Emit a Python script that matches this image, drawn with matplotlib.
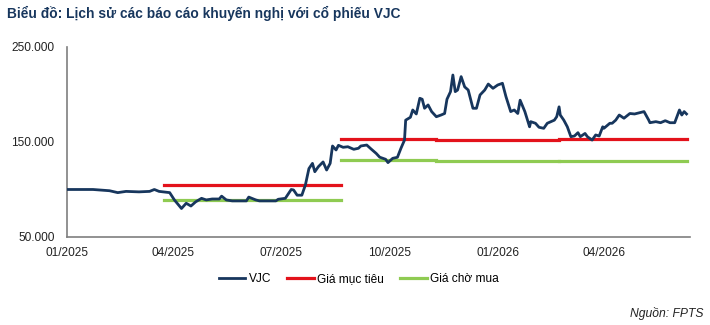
#!/usr/bin/env python3
"""
VJC recommendation history chart (price vs target / buy prices).
"""

import matplotlib
matplotlib.use('Agg')
import matplotlib.pyplot as plt
import matplotlib.dates as mdates
import matplotlib.ticker as mticker
import pandas as pd

# VJC close price (VND)
vjc_dates = [
    '2025-01-01', '2025-01-23', '2025-02-06', '2025-02-13', '2025-02-20', '2025-03-03',
    '2025-03-12', '2025-03-16', '2025-03-20', '2025-03-29', '2025-04-02', '2025-04-08',
    '2025-04-12', '2025-04-16', '2025-04-20', '2025-04-25', '2025-04-29', '2025-05-04',
    '2025-05-10', '2025-05-12', '2025-05-16', '2025-05-21', '2025-06-02', '2025-06-04',
    '2025-06-10', '2025-06-13', '2025-06-27', '2025-06-29', '2025-07-05', '2025-07-10',
    '2025-07-12', '2025-07-15', '2025-07-19', '2025-07-22', '2025-07-25', '2025-07-28',
    '2025-07-30', '2025-08-02', '2025-08-06', '2025-08-09', '2025-08-12', '2025-08-14',
    '2025-08-17', '2025-08-19', '2025-08-23', '2025-08-27', '2025-09-01', '2025-09-05',
    '2025-09-07', '2025-09-12', '2025-09-16', '2025-09-20', '2025-09-23', '2025-09-28',
    '2025-09-30', '2025-10-04', '2025-10-08', '2025-10-11', '2025-10-14', '2025-10-15',
    '2025-10-19', '2025-10-21', '2025-10-24', '2025-10-27', '2025-10-29', '2025-10-31',
    '2025-11-03', '2025-11-06', '2025-11-10', '2025-11-14', '2025-11-17', '2025-11-19',
    '2025-11-22', '2025-11-24', '2025-11-26', '2025-11-28', '2025-12-01', '2025-12-04',
    '2025-12-07', '2025-12-11', '2025-12-14', '2025-12-17', '2025-12-21', '2025-12-24',
    '2025-12-28', '2026-01-01', '2026-01-05', '2026-01-08', '2026-01-12', '2026-01-15',
    '2026-01-18', '2026-01-20', '2026-01-24', '2026-01-28', '2026-01-29', '2026-02-02',
    '2026-02-05', '2026-02-09', '2026-02-12', '2026-02-18', '2026-02-20', '2026-02-22',
    '2026-02-23', '2026-02-26', '2026-03-01', '2026-03-04', '2026-03-07', '2026-03-10',
    '2026-03-12', '2026-03-16', '2026-03-18', '2026-03-22', '2026-03-25', '2026-03-28',
    '2026-03-31', '2026-04-01', '2026-04-06', '2026-04-08', '2026-04-11', '2026-04-14',
    '2026-04-18', '2026-04-23', '2026-04-27', '2026-05-01', '2026-05-05', '2026-05-09',
    '2026-05-10', '2026-05-15', '2026-05-19', '2026-05-23', '2026-05-27', '2026-05-31',
    '2026-06-04', '2026-06-06', '2026-06-08', '2026-06-10',
]
vjc_price = [
    100000, 100000, 98700, 96700, 98000, 97500,
    98000, 100000, 98000, 96700, 89000, 80000,
    85500, 82600, 87000, 90700, 89000, 90000,
    90000, 93000, 89000, 88000, 88000, 92000,
    89000, 88000, 88000, 89700, 90700, 100000,
    99500, 94000, 94000, 104700, 122000, 127500,
    118700, 124000, 129000, 120500, 127500, 145800,
    141600, 146500, 144400, 145000, 142300, 143400,
    145800, 146800, 142300, 138000, 134000, 131800,
    128300, 132800, 133900, 143400, 152000, 173000,
    176000, 183700, 179500, 196000, 195000, 185500,
    189000, 182000, 176600, 178400, 180000, 195000,
    203000, 220500, 203000, 204700, 218800, 208000,
    204700, 185500, 185500, 199500, 204700, 211000,
    206500, 210000, 211800, 197700, 182000, 183700,
    180000, 194000, 182000, 166000, 171400, 169700,
    165500, 164400, 169700, 173000, 176600, 187000,
    178400, 173000, 166000, 155600, 156300, 159800,
    155600, 159000, 155600, 152000, 157400, 156300,
    166000, 164400, 169700, 169700, 173000, 178400,
    175000, 180000, 179500, 180800, 182000, 173000,
    170300, 171400, 170300, 172400, 170300, 170300,
    183700, 178400, 182000, 179500,
]

# Recommendation periods: start/end of each report, target and buy prices
rec_start = ['2025-03-24', '2025-08-21', '2025-11-10', '2026-02-22']
rec_end = ['2025-08-21', '2025-11-10', '2026-02-22', '2026-06-10']
target_price = [105000, 153500, 152500, 153500]
buy_price = [89000, 131000, 129500, 130000]

NAVY = '#17365D'
RED = '#E3121B'
GREEN = '#8FCB52'
FONT = 'Liberation Sans'

plt.rcParams['font.family'] = [FONT, 'DejaVu Sans']

fig = plt.figure(figsize=(7.1, 3.25), dpi=100)
ax = fig.add_axes([0.0944, 0.2708, 0.8775, 0.5846])

ax.plot(pd.to_datetime(vjc_dates), vjc_price, color=NAVY, linewidth=2.0,
        label='VJC', zorder=3)

for i, (s, e) in enumerate(zip(rec_start, rec_end)):
    xs = pd.to_datetime([s, e])
    ax.plot(xs, [target_price[i]] * 2, color=RED, linewidth=2.3,
            label='Giá mục tiêu' if i == 0 else None, zorder=2)
    ax.plot(xs, [buy_price[i]] * 2, color=GREEN, linewidth=2.3,
            label='Giá chờ mua' if i == 0 else None, zorder=2)

ax.set_ylim(50000, 250000)
ax.set_yticks([50000, 150000, 250000])
ax.yaxis.set_major_formatter(
    mticker.FuncFormatter(lambda v, p: f'{int(v):,}'.replace(',', '.')))

ax.set_xlim(pd.Timestamp('2025-01-01'), pd.Timestamp('2026-06-13'))
ax.xaxis.set_major_locator(mdates.MonthLocator(bymonth=[1, 4, 7, 10]))
ax.xaxis.set_major_formatter(mdates.DateFormatter('%m/%Y'))

ax.tick_params(axis='both', length=0, labelsize=8.6, colors='#222222')
ax.tick_params(axis='y', pad=9)
ax.tick_params(axis='x', pad=7)

for side in ['top', 'right']:
    ax.spines[side].set_visible(False)
for side in ['left', 'bottom']:
    ax.spines[side].set_color('#7F7F7F')
    ax.spines[side].set_linewidth(1.2)

ax.legend(loc='upper center', bbox_to_anchor=(0.468, -0.135), ncol=3,
          frameon=False, fontsize=8.6, handlelength=2.25, handletextpad=0.25,
          columnspacing=1.35)

fig.text(0.01, 0.96, 'Biểu đồ: Lịch sử các báo cáo khuyến nghị với cổ phiếu VJC',
         fontsize=9.9, fontweight='bold', color=NAVY, ha='left', va='center')
fig.text(0.991, 0.035, 'Nguồn: FPTS', fontsize=8.7, style='italic',
         color='#222222', ha='right', va='center')

plt.savefig('out.png', dpi=100)
plt.close(fig)
